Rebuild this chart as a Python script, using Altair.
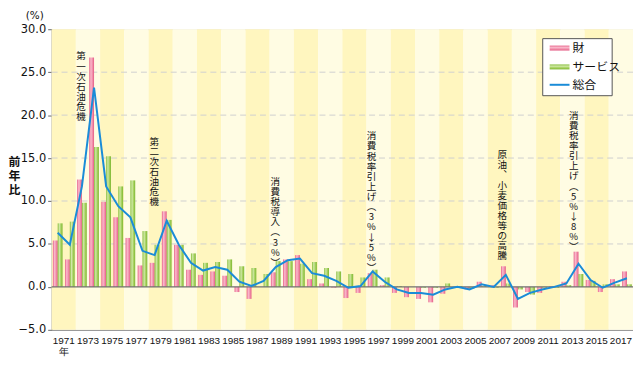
import altair as alt
import pandas as pd

# ---------------- data ----------------
years = list(range(1971, 2019))
goods = [5.4, 3.2, 12.5, 26.7, 9.9, 8.1, 5.7, 2.5, 2.8, 8.8,
         4.9, 2.0, 1.4, 1.8, 1.3, -0.6, -1.4, 0.0, 1.7, 3.2,
         3.7, 0.9, 0.4, -0.1, -1.3, -0.7, 1.6, 0.2, -0.7, -1.2,
         -1.4, -1.8, -0.8, 0.0, -0.3, 0.6, 0.2, 2.4, -2.4, -0.6,
         -0.7, 0.1, 0.6, 4.1, 0.8, -0.6, 0.9, 1.8]
services = [7.4, 7.6, 9.8, 16.3, 15.2, 11.7, 12.4, 6.5, 4.9, 7.8,
            4.9, 3.9, 2.8, 2.9, 3.2, 2.4, 2.2, 1.5, 3.0, 3.0,
            2.7, 2.9, 2.2, 1.8, 1.5, 1.1, 2.0, 1.1, 0.1, 0.0,
            -0.1, -0.1, 0.4, 0.1, -0.2, 0.1, -0.1, 0.4, -0.3, -0.9,
            -0.1, -0.1, 0.2, 1.5, 0.7, 0.3, 0.3, 0.3]
total = [6.3, 4.9, 11.7, 23.2, 11.7, 9.4, 8.1, 4.2, 3.7, 7.7,
         4.9, 2.8, 1.9, 2.3, 2.0, 0.6, 0.1, 0.7, 2.3, 3.1,
         3.3, 1.6, 1.3, 0.7, -0.1, 0.1, 1.8, 0.6, -0.3, -0.7,
         -0.7, -0.9, -0.3, 0.0, -0.3, 0.3, 0.0, 1.4, -1.4, -0.7,
         -0.3, 0.0, 0.4, 2.7, 0.8, -0.1, 0.5, 1.0]

series_labels = ["財", "サービス", "総合"]
unit_label = "(%)"
y_title = ["前", "年", "比"]
first_year_suffix = "年"
x_label_years = list(range(1971, 2018, 2))

y_ticks = [-5, 0, 5, 10, 15, 20, 25, 30]
grid_values = [5, 10, 15, 20, 25]

# annotation text (vertical), anchor year position and top value
ann_labels = ["第一次石油危機",
              "第二次石油危機",
              "消費税導入︵3%︶",
              "消費税率引上げ︵3%↓5%︶",
              "原油︑小麦価格等の高騰",
              "消費税率引上げ︵5%↓8%︶"]
ann_x = [1973.42, 1979.47, 1989.47, 1997.4, 2008.2, 2014.1]
ann_top = [27.4, 17.5, 12.8, 18.1, 15.9, 20.5]

# ---------------- styles ----------------
BAND_DARK = "#FFF6BF"
BAND_LIGHT = "#FFFCE3"
PINK = {"gradient": "linear", "x1": 0, "x2": 1, "y1": 0, "y2": 0,
        "stops": [{"offset": 0, "color": "#E8628A"},
                  {"offset": 0.35, "color": "#F9B9CB"},
                  {"offset": 0.65, "color": "#F394AF"},
                  {"offset": 1, "color": "#E35B84"}]}
GREEN = {"gradient": "linear", "x1": 0, "x2": 1, "y1": 0, "y2": 0,
         "stops": [{"offset": 0, "color": "#84BC36"},
                   {"offset": 0.35, "color": "#D0E8A8"},
                   {"offset": 0.65, "color": "#A8D262"},
                   {"offset": 1, "color": "#7DB630"}]}
PINK_V = dict(PINK, x1=0, x2=0, y1=0, y2=1)
GREEN_V = dict(GREEN, x1=0, x2=0, y1=0, y2=1)
BLUE = "#1A8CD8"
JP = "Noto Sans CJK JP"

W, H = 586, 303

# ---------------- tables ----------------
df = pd.DataFrame({"year": years, "goods": goods,
                   "services": services, "total": total})
band_starts = list(range(1971, 2019, 2))
bands = pd.DataFrame({"start": band_starts,
                      "shade": [i % 2 for i in range(len(band_starts))]})
grid_df = pd.DataFrame({"v": grid_values})
zero_df = pd.DataFrame({"v": [0]})
ann_df = pd.DataFrame({"label": ann_labels, "ax": ann_x, "ay": ann_top})
xlab_df = pd.DataFrame({"year": x_label_years})

xscale = alt.Scale(domain=[1971, 2019], nice=False, zero=False)
yscale = alt.Scale(domain=[-5, 30], nice=False, zero=False)

x_axis = alt.Axis(title=None, labels=False, ticks=False, grid=False,
                  domainColor="#888888", values=[1971])
y_axis = alt.Axis(
    values=y_ticks, format=".1f", grid=False,
    tickSize=4, tickColor="#666666", domainColor="#888888",
    labelFont="DejaVu Sans", labelFontSize=11.5, labelColor="#111111",
    labelPadding=2, labelOverlap=False,
    title=y_title, titleAngle=0, titleFont=JP, titleFontSize=12,
    titleFontWeight="bold", titleColor="#111111",
    titleX=-38, titleY=128, titleBaseline="top", titleAlign="center",
    titleLineHeight=14.5,
)

base = alt.Chart(df)

bg = alt.Chart(bands).transform_calculate(end="datum.start + 2").mark_rect().encode(
    x=alt.X("start:Q", scale=xscale, axis=x_axis),
    x2="end:Q",
    y=alt.Y(datum=30, scale=yscale, axis=y_axis),
    y2=alt.datum(-5),
    color=alt.condition("datum.shade == 0", alt.value(BAND_DARK), alt.value(BAND_LIGHT)),
)

grid = alt.Chart(grid_df).mark_rule(color="#CFCFCF", strokeDash=[6, 4], strokeWidth=1).encode(
    y=alt.Y("v:Q", scale=yscale)
)

bars_goods = base.transform_calculate(x0="datum.year + 0.1", x1="datum.year + 0.5").mark_bar(
    color=PINK).encode(
    x=alt.X("x0:Q", scale=xscale), x2="x1:Q",
    y=alt.Y("goods:Q", scale=yscale), y2=alt.datum(0),
)
bars_serv = base.transform_calculate(x0="datum.year + 0.5", x1="datum.year + 0.9").mark_bar(
    color=GREEN).encode(
    x=alt.X("x0:Q", scale=xscale), x2="x1:Q",
    y=alt.Y("services:Q", scale=yscale), y2=alt.datum(0),
)

zero = alt.Chart(zero_df).mark_rule(color="#707070", strokeWidth=1.2).encode(
    y=alt.Y("v:Q", scale=yscale)
)

line = base.transform_calculate(xc="datum.year + 0.5").mark_line(
    color=BLUE, strokeWidth=2).encode(
    x=alt.X("xc:Q", scale=xscale), y=alt.Y("total:Q", scale=yscale)
)

ann = alt.Chart(ann_df).transform_calculate(chars="split(datum.label, '')").mark_text(
    font=JP, fontSize=9.6, lineHeight=10.2, baseline="top", align="center",
    color="#111111").encode(
    x=alt.X("ax:Q", scale=xscale), y=alt.Y("ay:Q", scale=yscale), text="chars:N"
)

# x tick labels: centred over each two-year span
xlabels = alt.Chart(xlab_df).transform_calculate(
    pos="datum.year + 1",
    lab=f"datum.year == 1971 ? ['1971', '{first_year_suffix}'] : '' + datum.year",
).mark_text(font="Liberation Sans", fontSize=10, lineHeight=11, baseline="top",
            align="center", color="#111111").encode(
    x=alt.X("pos:Q", scale=xscale), y=alt.value(H + 6), text="lab:N"
)

unit = alt.Chart(pd.DataFrame({"t": [unit_label]})).mark_text(
    font="DejaVu Sans", fontSize=10.5, color="#111111", align="center", baseline="middle"
).encode(x=alt.value(-17), y=alt.value(-13), text="t:N")

# legend (chart furniture)
leg_box = alt.Chart(pd.DataFrame({"a": [0]})).mark_rect(
    fill="white", stroke="#555555", strokeWidth=1).encode(
    x=alt.value(495), x2=alt.value(565), y=alt.value(9.5), y2=alt.value(67))
leg_layers = [leg_box]
leg_y = [19, 38, 56]
for i, lab in enumerate(series_labels):
    one = alt.Chart(pd.DataFrame({"t": [lab]}))
    if i < 2:
        sym = one.mark_rect(color=PINK_V if i == 0 else GREEN_V).encode(
            x=alt.value(502), x2=alt.value(522),
            y=alt.value(leg_y[i] - 2.5), y2=alt.value(leg_y[i] + 2.5))
    else:
        sym = one.mark_rule(color=BLUE, strokeWidth=2).encode(
            x=alt.value(502), x2=alt.value(522), y=alt.value(leg_y[i]))
    txt = one.mark_text(font=JP, fontSize=12, align="left", baseline="middle",
                        color="#111111").encode(
        x=alt.value(525), y=alt.value(leg_y[i]), text="t:N")
    leg_layers += [sym, txt]

chart = alt.layer(bg, grid, bars_goods, bars_serv, zero, line, ann, xlabels, unit,
                  *leg_layers).properties(
    width=W, height=H,
    padding={"left": 44, "top": 20, "right": 0, "bottom": 27},
    autosize=alt.AutoSizeParams(type="none"),
).configure_view(stroke=None).configure(background="white")

chart.save("out.html", embed_options={"renderer": "svg", "actions": False})
